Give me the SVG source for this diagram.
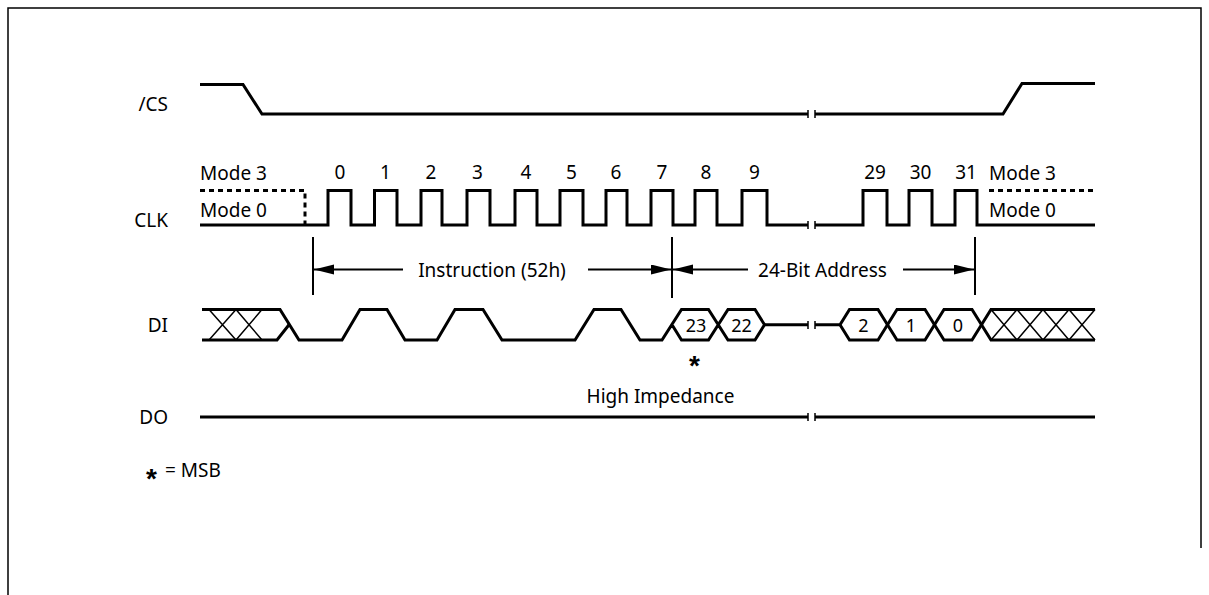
<svg xmlns="http://www.w3.org/2000/svg" width="1209" height="595" viewBox="0 0 1209 595">
<style>
.t{font-family:"Noto Sans","Open Sans","Liberation Sans",sans-serif;font-size:19px;fill:#000}
.lbl{text-anchor:end}
.c{text-anchor:middle}
.star{font-family:"Liberation Sans",sans-serif;font-size:28px;font-weight:bold}
.w{fill:none;stroke:#000;stroke-width:3;stroke-linejoin:miter}
.thin{fill:none;stroke:#000;stroke-width:1.5}
.dash{fill:none;stroke:#000;stroke-width:3;stroke-dasharray:5,4}
.tick{fill:none;stroke:#000;stroke-width:1.5}
.dim{fill:none;stroke:#000;stroke-width:2}
.frame{fill:none;stroke:#000;stroke-width:1.5}
</style>
<defs>
<marker id="ah" markerUnits="userSpaceOnUse" markerWidth="22" markerHeight="12" refX="20" refY="5" orient="auto">
<path d="M0,0 L20,5 L0,10 Z" fill="#000"/>
</marker>
</defs>
<rect width="1209" height="595" fill="#fff"/>
<path class="frame" d="M8,595 V8 H1201 V548"/>

<g id="sig-cs">
<text class="t lbl" x="168" y="111">/CS</text>
<path class="w" d="M200,84.5 H243 L262,114 H808"/>
<path class="w" d="M815,114 H1003 L1022,83.5 H1095"/>
<path class="tick" d="M808,110 V118 M815,110 V118"/>
</g>

<g id="sig-clk">
<text class="t lbl" x="168" y="227">CLK</text>
<text class="t" x="200" y="180">Mode 3</text>
<text class="t" x="200" y="217">Mode 0</text>
<path class="dash" d="M200,190.5 H305 V225"/>
<path class="w" d="M200,225 H328 V190.5 H351 V225 H374.5 V190.5 H397 V225 H421 V190.5 H442 V225 H467 V190.5 H490 V225 H515 V190.5 H537 V225 H560 V190.5 H583 V225 H606 V190.5 H627 V225 H651 V190.5 H673 V225 H695 V190.5 H717 V225 H742 V190.5 H767 V225 H808"/>
<path class="w" d="M815,225 H863 V190.5 H887 V225 H909 V190.5 H932 V225 H955 V190.5 H977 V225 H1095"/>
<path class="tick" d="M808,221 V229 M815,221 V229"/>
<path class="dash" d="M989,190.5 H1095"/>
<text class="t" x="989" y="180">Mode 3</text>
<text class="t" x="989" y="217">Mode 0</text>
<g class="t c">
<text x="340" y="179">0</text>
<text x="385.5" y="179">1</text>
<text x="431" y="179">2</text>
<text x="477.5" y="179">3</text>
<text x="526" y="179">4</text>
<text x="571.5" y="179">5</text>
<text x="616" y="179">6</text>
<text x="662" y="179">7</text>
<text x="706" y="179">8</text>
<text x="754.5" y="179">9</text>
<text x="875" y="179">29</text>
<text x="920.5" y="179">30</text>
<text x="966" y="179">31</text>
</g>
</g>

<g id="sig-di">
<text class="t lbl" x="168" y="332">DI</text>
<path class="w" d="M202,309.5 H280 L299,340 H342 L360,309.5 H387 L405,340 H437 L455,309.5 H483 L502,340 H575 L594,309.5 H621 L640,340 H662 L681.5,309.5 H708.5 L728,340 H755 L764.5,324.75 L755,309.5 H728 L708.5,340 H681.5 L672,324.75"/>
<path class="w" d="M202,340 H277 L289,324.75"/>
<path class="thin" d="M209,309.5 L236,340 M209,340 L236,309.5 M236,309.5 L262,340 M236,340 L262,309.5"/>
<path class="w" d="M764.5,324.75 H808"/>
<path class="tick" d="M808,321 V329 M815,321 V329"/>
<path class="w" d="M815,324.75 H840 L849.5,309.5 H878 L897,340 H925 L944,309.5 H972 L991,340 H1095"/>
<path class="w" d="M840,324.75 L849.5,340 H878 L897,309.5 H925 L944,340 H972 L991,309.5 H1095"/>
<path class="thin" d="M991,309.5 L1017,340 M991,340 L1017,309.5 M1017,309.5 L1043,340 M1017,340 L1043,309.5 M1043,309.5 L1069,340 M1043,340 L1069,309.5 M1069,309.5 L1095,340 M1069,340 L1095,309.5"/>
<g class="t c" style="font-size:18px">
<text x="696" y="331.5">23</text>
<text x="741.5" y="331.5">22</text>
<text x="863.5" y="331.5">2</text>
<text x="911" y="331.5">1</text>
<text x="958" y="331.5">0</text>
</g>
<text class="t c star" x="694.5" y="375">*</text>
</g>

<g id="sig-do">
<text class="t lbl" x="168" y="424">DO</text>
<path class="w" d="M200,417 H808 M815,417 H1095"/>
<path class="tick" d="M808,413 V421 M815,413 V421"/>
<text class="t c" x="660.5" y="403">High Impedance</text>
</g>

<g id="connectors">
<path class="dim" d="M313,237 V295 M672,237 V298 M975,237 V295"/>
<path class="dim" d="M403,269.5 H314" marker-end="url(#ah)"/>
<path class="dim" d="M588,269.5 H671" marker-end="url(#ah)"/>
<path class="dim" d="M748,269.5 H673" marker-end="url(#ah)"/>
<path class="dim" d="M903,269.5 H974" marker-end="url(#ah)"/>
<text class="t c" x="492" y="277">Instruction (52h)</text>
<text class="t c" x="822.5" y="277">24-Bit Address</text>
</g>

<g id="legend">
<text class="t star" x="146" y="488">*</text>
<text class="t" x="165" y="477">= MSB</text>
</g>
</svg>
